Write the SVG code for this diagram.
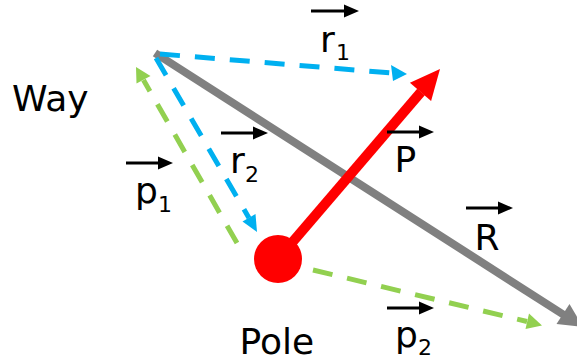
<svg xmlns="http://www.w3.org/2000/svg" width="577" height="362" viewBox="0 0 577 362">
  <style>
    .lbl { font-family: "DejaVu Sans", "Liberation Sans", sans-serif; font-size: 36px; fill: #000; }
    .sub { font-family: "DejaVu Sans", "Liberation Sans", sans-serif; font-size: 22px; fill: #000; }
    .vec { stroke: #000; stroke-width: 3; fill: none; }
    .blue { stroke: #00B0F0; stroke-width: 5; stroke-dasharray: 20 15; fill: none; }
    .green { stroke: #92D050; stroke-width: 5; stroke-dasharray: 20 15; fill: none; }
  </style>
  <defs>
    <marker id="vecHead" markerUnits="userSpaceOnUse" markerWidth="16" markerHeight="14" refX="0" refY="7" orient="auto">
      <path d="M0,0.5 L15,7 L0,13.5 z" fill="#000"/>
    </marker>
  </defs>
  <rect width="577" height="362" fill="#fff"/>

  <g id="connectors">
    <g id="R-arrow">
      <line x1="155" y1="53" x2="564" y2="315" stroke="#808080" stroke-width="8"/>
      <polygon points="556.5,324.1 569.5,303.9 583,327" fill="#808080"/>
    </g>
    <g id="r1-arrow">
      <line class="blue" x1="160" y1="54" x2="392" y2="73"/>
      <polygon points="391,65 407,74 393,81" fill="#00B0F0"/>
    </g>
    <g id="r2-arrow">
      <line class="blue" x1="156" y1="58" x2="249" y2="218"/>
      <polygon points="242.5,221.5 255.5,214 257,232" fill="#00B0F0"/>
    </g>
    <g id="p1-arrow">
      <line class="green" x1="237" y1="243" x2="143.5" y2="80"/>
      <polygon points="150.5,76 136.5,83.5 136,67" fill="#92D050"/>
    </g>
    <g id="p2-arrow">
      <line class="green" x1="313" y1="270" x2="527" y2="321.5"/>
      <polygon points="529,313.5 542,325.5 525.5,329" fill="#92D050"/>
    </g>
    <g id="P-arrow">
      <line x1="278" y1="259" x2="421" y2="92" stroke="#FF0000" stroke-width="10"/>
      <polygon points="409.9,82.7 440,69 431.1,100.9" fill="#FF0000"/>
    </g>
  </g>

  <g id="pole">
    <circle cx="278" cy="259" r="24" fill="#FF0000"/>
    <text class="lbl" x="239.5" y="354">Pole</text>
  </g>

  <g id="way">
    <text class="lbl" x="12" y="111">Way</text>
  </g>

  <g id="label-r1">
    <line class="vec" x1="311" y1="11" x2="344" y2="11" marker-end="url(#vecHead)"/>
    <text class="lbl" x="320" y="52">r</text>
    <text class="sub" x="336" y="60">1</text>
  </g>

  <g id="label-r2">
    <line class="vec" x1="221" y1="133" x2="253" y2="133" marker-end="url(#vecHead)"/>
    <text class="lbl" x="230" y="173">r</text>
    <text class="sub" x="245" y="182">2</text>
  </g>

  <g id="label-P">
    <line class="vec" x1="387" y1="132" x2="419" y2="132" marker-end="url(#vecHead)"/>
    <text class="lbl" x="394.5" y="172">P</text>
  </g>

  <g id="label-p1">
    <line class="vec" x1="126" y1="163" x2="158" y2="163" marker-end="url(#vecHead)"/>
    <text class="lbl" x="135" y="203">p</text>
    <text class="sub" x="158" y="212">1</text>
  </g>

  <g id="label-R">
    <line class="vec" x1="466" y1="208" x2="498" y2="208" marker-end="url(#vecHead)"/>
    <text class="lbl" x="474.5" y="250">R</text>
  </g>

  <g id="label-p2">
    <line class="vec" x1="387" y1="308" x2="419" y2="308" marker-end="url(#vecHead)"/>
    <text class="lbl" x="395" y="347">p</text>
    <text class="sub" x="418" y="355">2</text>
  </g>
</svg>
